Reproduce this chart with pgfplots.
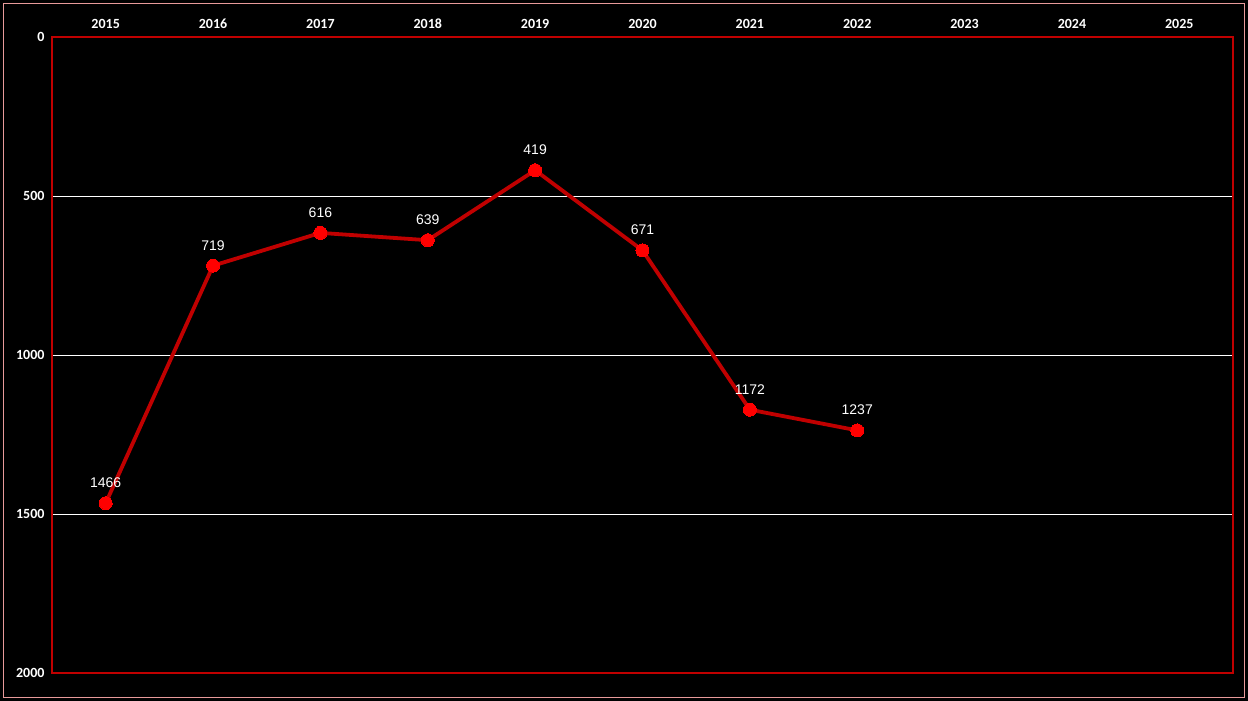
\documentclass[border=0pt]{standalone}
\usepackage{pgfplots}
\pgfplotsset{compat=1.18}
\usepackage{fontspec}
\setmainfont{Carlito}
\newfontfamily\arialf{Liberation Sans}
\definecolor{frame}{HTML}{C00000}
\definecolor{outer}{HTML}{E89A9A}
\begin{document}
\begin{tikzpicture}[x=1pt,y=1pt]
\fill[black] (0,0) rectangle (1248,701);
\draw[outer, line width=1.5pt] (3.5,3.5) rectangle (1244.5,697.5);
\begin{axis}[
  at={(52pt,28pt)}, anchor=south west,
  scale only axis, width=1181pt, height=636pt,
  xmin=-0.5, xmax=10.5, ymin=0, ymax=2000,
  y dir=reverse,
  xtick={0,...,10},
  xticklabels={2015,2016,2017,2018,2019,2020,2021,2022,2023,2024,2025},
  xticklabel pos=top,
  ytick={0,500,1000,1500,2000},
  ymajorgrids, grid style={white, line width=0.8pt},
  major tick length=0pt,
  axis line style={frame, line width=1.5pt},
  ticklabel style={font=\fontsize{14}{16}\selectfont\bfseries, text=white},
  xticklabel style={yshift=5pt},
  yticklabel style={xshift=-4pt},
  /pgf/number format/assume math mode=true,
  /pgf/number format/1000 sep={},
  clip=false,
]
\addplot[frame, line width=3.8pt, mark=*, mark size=6.5pt,
  mark options={fill=red, draw=red, line width=0pt},
  point meta=y,
  nodes near coords={\pgfmathprintnumber[1000 sep={}]{\pgfplotspointmeta}},
  nodes near coords style={font=\arialf\fontsize{14}{16}\selectfont, text=white, anchor=south, yshift=12pt},
] coordinates {
(0,1466) (1,719) (2,616) (3,639) (4,419) (5,671) (6,1172) (7,1237)
};
\end{axis}
\end{tikzpicture}
\end{document}
